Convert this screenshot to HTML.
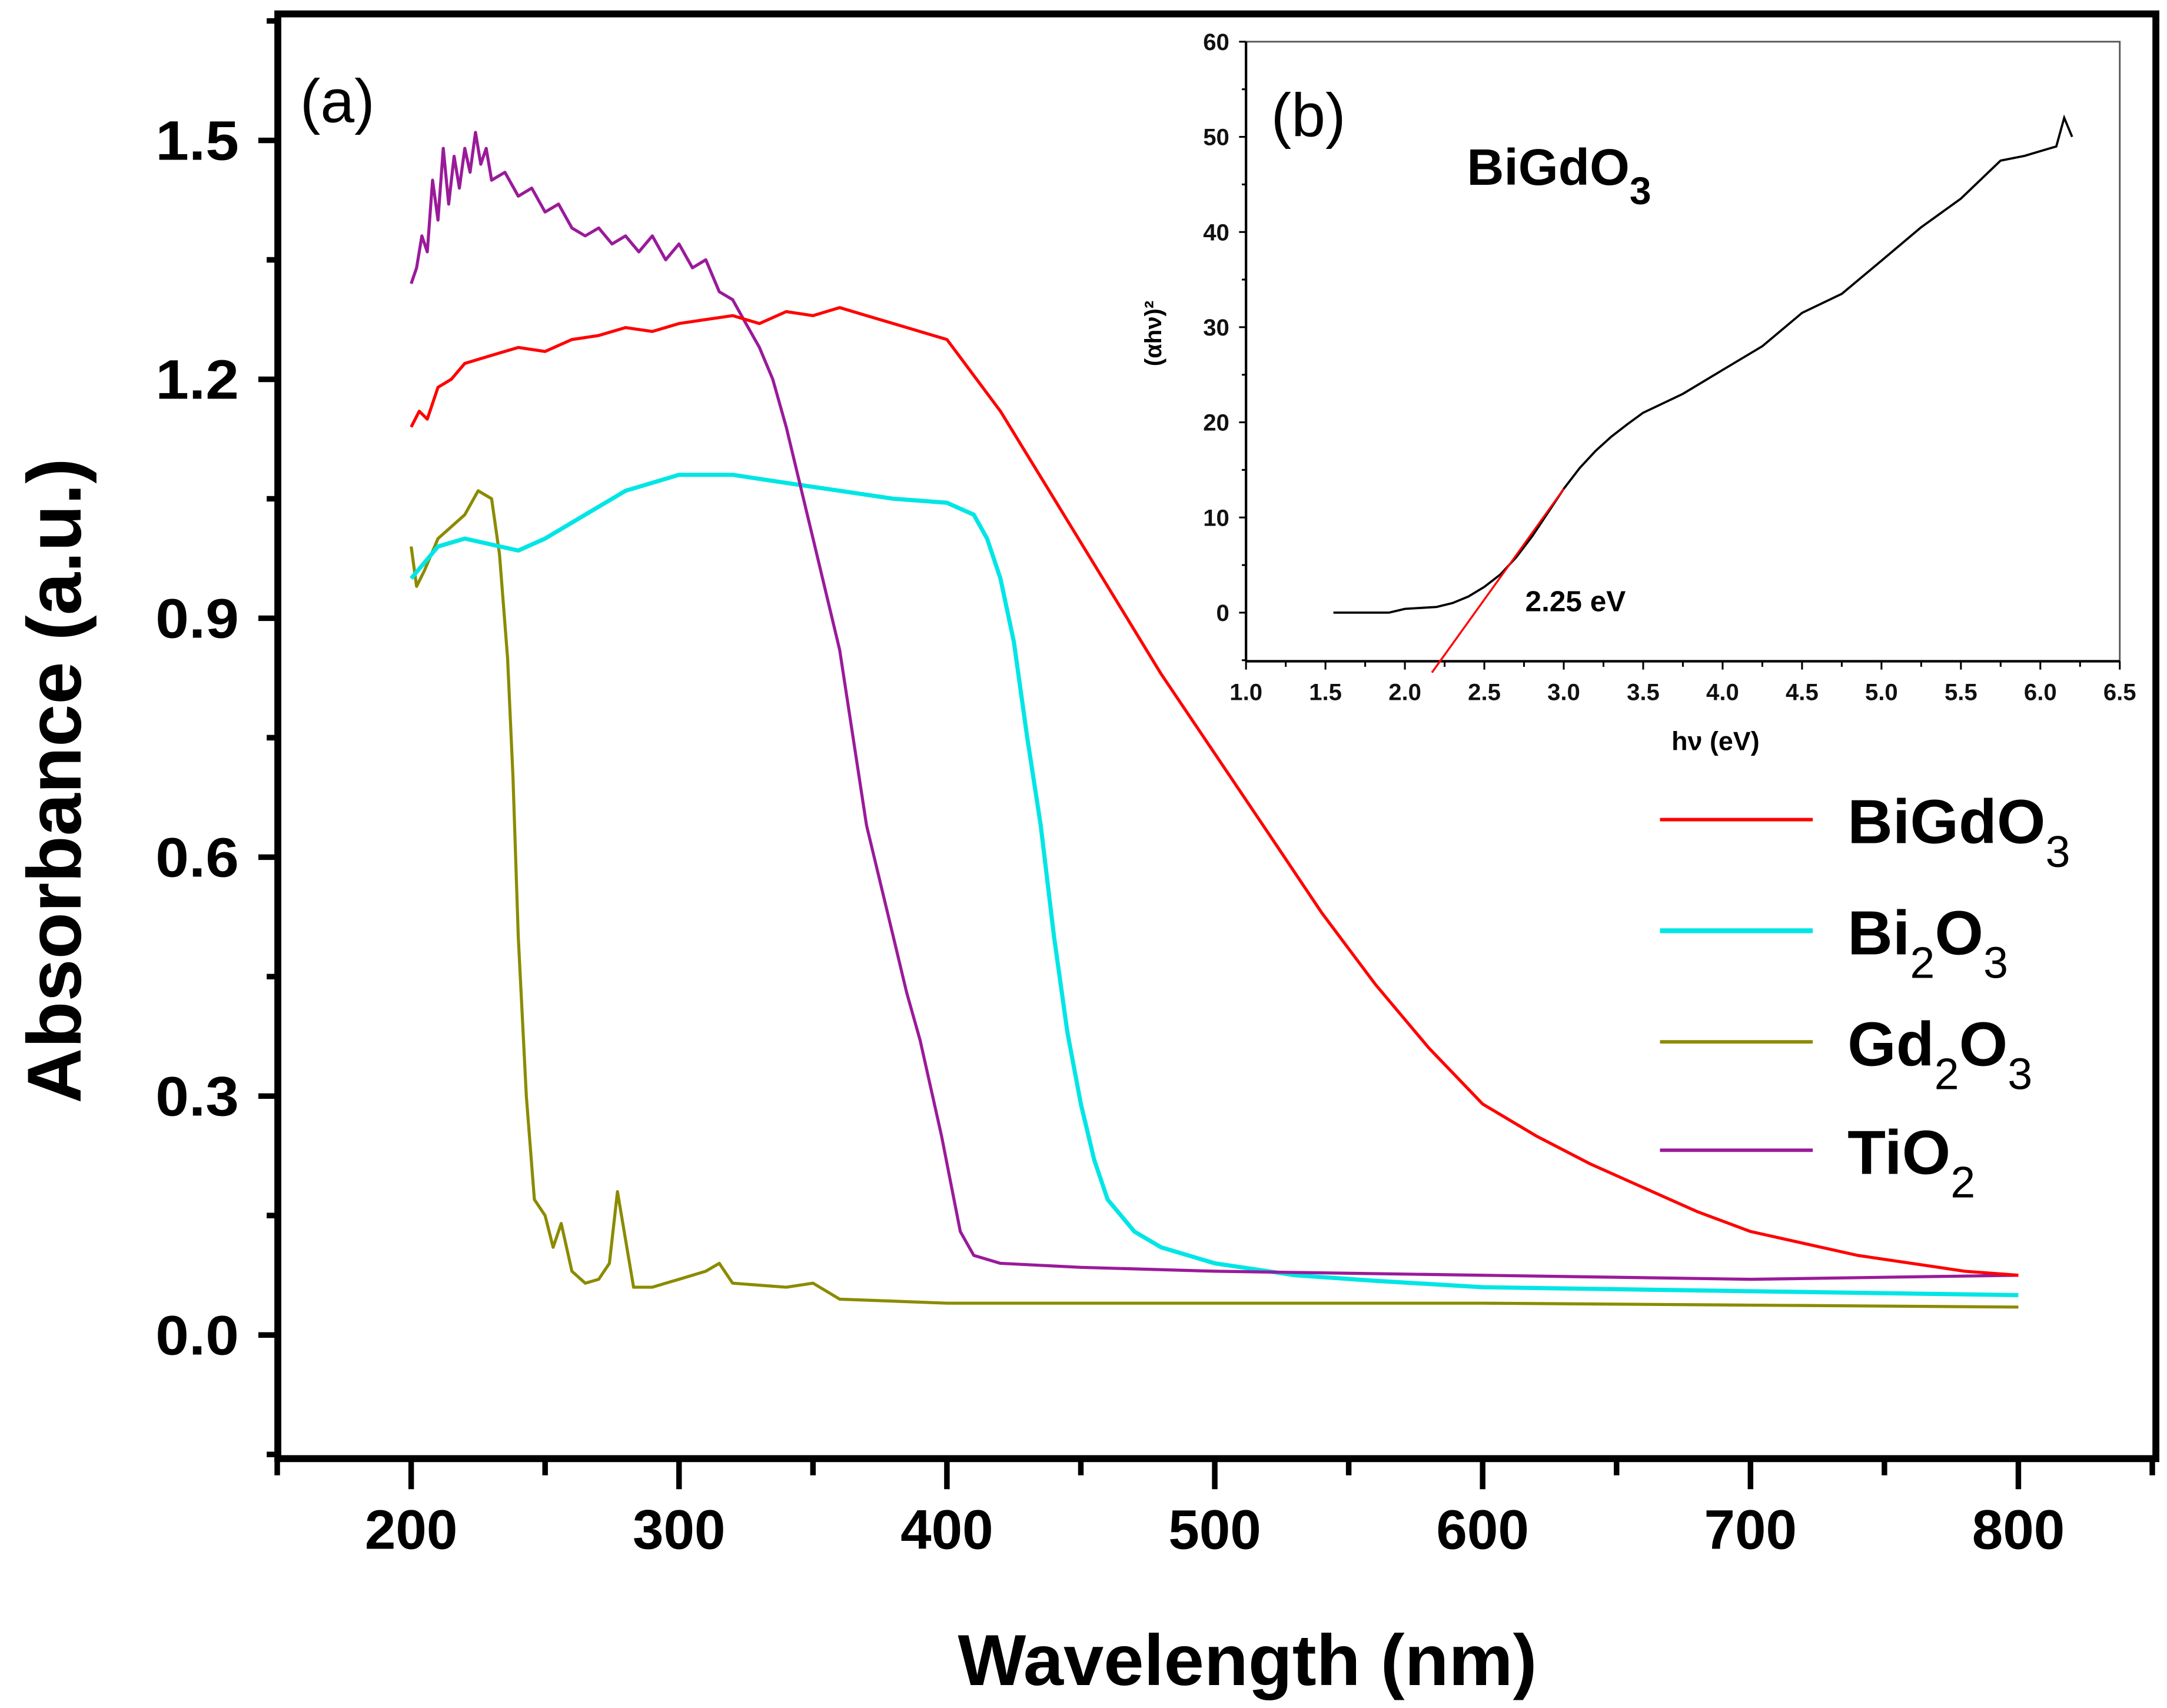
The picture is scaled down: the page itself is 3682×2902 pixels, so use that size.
<!DOCTYPE html>
<html><head><meta charset="utf-8"><style>
html,body{margin:0;padding:0;background:#fff;}
svg{display:block;}
text{font-family:"Liberation Sans",Arial,sans-serif;}
</style></head><body>
<svg id="chart" xmlns="http://www.w3.org/2000/svg" width="3682" height="2902" viewBox="0 0 1560 1229.5">
<rect x="0" y="0" width="1560" height="1229.5" fill="#fff"/>
<g id="main"></g>
<g id="inset"></g>
</svg>
<script>
// ---- main chart data ----
const wlBiGdO3 = [200,203,206,210,215,220,230,240,250,260,270,280,290,300,310,320,330,340,350,360,370,380,400,420,440,460,480,500,520,540,560,580,600,620,640,660,680,700,720,740,760,780,800];
const absBiGdO3 = [1.14,1.16,1.15,1.19,1.2,1.22,1.23,1.24,1.235,1.25,1.255,1.265,1.26,1.27,1.275,1.28,1.27,1.285,1.28,1.29,1.28,1.27,1.25,1.16,1.05,0.94,0.83,0.73,0.63,0.53,0.44,0.36,0.29,0.25,0.215,0.185,0.155,0.13,0.115,0.1,0.09,0.08,0.075];
const wlBi2O3 = [200,210,220,240,250,260,280,300,320,340,360,380,400,410,415,420,425,430,435,440,445,450,455,460,470,480,500,530,560,600,700,800];
const absBi2O3 = [0.95,0.99,1.0,0.985,1.0,1.02,1.06,1.08,1.08,1.07,1.06,1.05,1.045,1.03,1.0,0.95,0.87,0.75,0.64,0.5,0.38,0.29,0.22,0.17,0.13,0.11,0.09,0.075,0.068,0.06,0.055,0.05];
const wlGd2O3 = [200,202,205,210,220,225,230,233,236,238,240,243,246,250,253,256,260,265,270,274,277,280,283,290,300,310,315,320,340,350,360,400,600,800];
const absGd2O3 = [0.99,0.94,0.96,1.0,1.03,1.06,1.05,0.98,0.85,0.7,0.5,0.3,0.17,0.15,0.11,0.14,0.08,0.065,0.07,0.09,0.18,0.12,0.06,0.06,0.07,0.08,0.09,0.065,0.06,0.065,0.045,0.04,0.04,0.035];
const wlTiO2 = [200,202,204,206,208,210,212,214,216,218,220,222,224,226,228,230,235,240,245,250,255,260,265,270,275,280,285,290,295,300,305,310,315,320,325,330,335,340,350,360,370,380,385,390,398,405,410,420,450,500,600,700,800];
const absTiO2 = [1.32,1.34,1.38,1.36,1.45,1.40,1.49,1.42,1.48,1.44,1.49,1.46,1.51,1.47,1.49,1.45,1.46,1.43,1.44,1.41,1.42,1.39,1.38,1.39,1.37,1.38,1.36,1.38,1.35,1.37,1.34,1.35,1.31,1.30,1.27,1.24,1.20,1.14,1.0,0.86,0.64,0.5,0.43,0.37,0.25,0.13,0.1,0.09,0.085,0.08,0.075,0.07,0.075];
const xTicks = [200,300,400,500,600,700,800];
const yTicks = [0.0,0.3,0.6,0.9,1.2,1.5];
const yTickLabels = ["0.0","0.3","0.6","0.9","1.2","1.5"];
// ---- inset data ----
const hv = [1.55,1.9,2.0,2.2,2.3,2.4,2.5,2.6,2.7,2.8,2.9,3.0,3.1,3.2,3.3,3.4,3.5,3.75,4.0,4.25,4.5,4.75,5.0,5.25,5.5,5.75,5.9,6.0,6.1,6.15,6.2];
const ahv2 = [0,0,0.4,0.6,1.0,1.7,2.7,4.0,5.8,8.0,10.5,13.0,15.2,17.0,18.5,19.8,21,23,25.5,28,31.5,33.5,37,40.5,43.5,47.5,48,48.5,49,52,50];
const fitHv = [2.17,3.0];
const fitY = [-6.3,13.0];
const insetXTicks = [1.0,1.5,2.0,2.5,3.0,3.5,4.0,4.5,5.0,5.5,6.0,6.5];
const insetYTicks = [0,10,20,30,40,50,60];

const NS="http://www.w3.org/2000/svg";
function mk(parent,tag,attrs,txt){const e=document.createElementNS(NS,tag);for(const k in attrs)e.setAttribute(k,attrs[k]);if(txt!==undefined)e.textContent=txt;parent.appendChild(e);return e;}

const X0=200,X1=1552,Y0=10,Y1=1050;
const xs=v=>296+(v-200)*(1453-296)/600;
const ys=v=>961-v*573.3;
const main=document.getElementById('main');
let fr=mk(main,'rect',{x:X0,y:Y0,width:X1-X0,height:Y1-Y0,fill:'none',stroke:'#000','stroke-width':5});


for(let v=-0.15;v<=1.66;v+=0.15){
  const major=Math.abs(Math.round(v/0.3)*0.3-v)<1e-6;
  const t=mk(main,'line',{x1:X0-(major?14:8),x2:X0,y1:ys(v),y2:ys(v),stroke:'#000','stroke-width':4});
  
  
}
yTicks.forEach((v,i)=>{
  const t=mk(main,'text',{x:172,y:ys(v)+14,'text-anchor':'end','font-size':40,'font-weight':'bold',transform:`translate(172 0) scale(1.08 1) translate(-172 0)`},yTickLabels[i]);
  
  
});
for(let v=150;v<=850;v+=50){
  const major=v%100===0;
  const t=mk(main,'line',{x1:xs(v),x2:xs(v),y1:Y1,y2:Y1+(major?22:12),stroke:'#000','stroke-width':4});
  
  
}
xTicks.forEach(v=>{
  const t=mk(main,'text',{x:xs(v),y:1115,'text-anchor':'middle','font-size':40,'font-weight':'bold'},String(v));
  
  
});
let t=mk(main,'text',{x:0,y:0,'text-anchor':'middle','font-size':55,'font-weight':'bold',transform:'translate(58 562) rotate(-90)'},'Absorbance (a.u.)');


t=mk(main,'text',{x:898,y:1213,'text-anchor':'middle','font-size':52,'font-weight':'bold'},'Wavelength (nm)');


t=mk(main,'text',{x:216,y:88,'font-size':44},'(a)');



function series(xArr,yArr,color,name,w){
  const d=xArr.map((x,i)=>(i?'L':'M')+xs(x).toFixed(1)+' '+ys(yArr[i]).toFixed(1)).join(' ');
  const p=mk(main,'path',{d:d,fill:'none',stroke:color,'stroke-width':w,'stroke-linejoin':'round'});
  
  
}
series(wlGd2O3,absGd2O3,'#8b8b00','series-gd2o3',2.2);
series(wlBi2O3,absBi2O3,'#00e5e5','series-bi2o3',3);
series(wlTiO2,absTiO2,'#9a1a9a','series-tio2',2.2);
series(wlBiGdO3,absBiGdO3,'#ff0000','series-bigdo3',2.2);

const legend=[['#ff0000','BiGdO',[['3',false]],'legend-bigdo3'],['#00e5e5','Bi',[['2',true],['O',false],['3',true]],'legend-bi2o3'],['#8b8b00','Gd',[['2',true],['O',false],['3',true]],'legend-gd2o3'],['#9a1a9a','TiO',[['2',true]],'legend-tio2']];
const ly=[590,670,750,828];
legend.forEach((L,i)=>{
  const g=mk(main,'g',{});
  
  
  mk(g,'line',{x1:1195,x2:1305,y1:ly[i],y2:ly[i],stroke:L[0],'stroke-width':L[0]==='#00e5e5'?3.5:2.5});
  const tx=mk(g,'text',{x:1330,y:ly[i]+17,'font-size':45,'font-weight':'bold'});
  mk(tx,'tspan',{},L[1]);
  L[2].forEach(([s,sub])=>{
    if(s==='O'){mk(tx,'tspan',{dy:-17,'font-size':45},'O');}
    else mk(tx,'tspan',{dy:17,'font-size':32,'font-weight':'normal'},s);
  });
});

const IX0=897,IX1=1526,IY0=30,IY1=476;
const ix=v=>IX0+(v-1.0)*(IX1-IX0)/5.5;
const iy=v=>441-v*6.85;
const ins=document.getElementById('inset');
let ifr=mk(ins,'rect',{x:IX0,y:IY0,width:IX1-IX0,height:IY1-IY0,fill:'#fff',stroke:'#555','stroke-width':1.2});


mk(ins,'line',{x1:IX0,x2:IX0,y1:IY0,y2:IY1,stroke:'#000','stroke-width':1.8});
mk(ins,'line',{x1:IX0,x2:IX1,y1:IY1,y2:IY1,stroke:'#000','stroke-width':1.8});
for(let v=-5;v<=60;v+=5){
  const major=v%10===0;
  const l=mk(ins,'line',{x1:IX0-(major?5:3),x2:IX0,y1:iy(v),y2:iy(v),stroke:'#000','stroke-width':1.3});
  
  
}
insetYTicks.forEach(v=>{
  const l=mk(ins,'text',{x:IX0-12,y:iy(v)+6,'text-anchor':'end','font-size':17,'font-weight':'bold',fill:'#111'},String(v));
  
  
});
for(let v=1.0;v<=6.51;v+=0.25){
  const major=Math.abs(v*2-Math.round(v*2))<1e-6;
  const l=mk(ins,'line',{x1:ix(v),x2:ix(v),y1:IY1,y2:IY1+(major?6:4),stroke:'#000','stroke-width':1.3});
  
  
}
insetXTicks.forEach(v=>{
  const l=mk(ins,'text',{x:ix(v),y:504,'text-anchor':'middle','font-size':17,'font-weight':'bold',fill:'#111'},v.toFixed(1));
  
  
});
t=mk(ins,'text',{x:1235,y:540,'text-anchor':'middle','font-size':19,'font-weight':'bold'},'hν (eV)');


t=mk(ins,'text',{x:0,y:0,'text-anchor':'middle','font-size':17,'font-weight':'bold',transform:'translate(836 240) rotate(-90)'},'(αhν)²');


t=mk(ins,'text',{x:915,y:98,'font-size':44},'(b)');


t=mk(ins,'text',{x:1056,y:133,'font-size':37,'font-weight':'bold'});
mk(t,'tspan',{},'BiGdO');
mk(t,'tspan',{dy:14,'font-size':28},'3');


t=mk(ins,'text',{x:1098,y:440,'font-size':21,'font-weight':'bold'},'2.25 eV');


let ip=mk(ins,'path',{d:hv.map((x,i)=>(i?'L':'M')+ix(x).toFixed(1)+' '+iy(ahv2[i]).toFixed(1)).join(' '),fill:'none',stroke:'#000','stroke-width':1.6});


let fl=mk(ins,'line',{x1:ix(fitHv[0]),y1:iy(fitY[0]),x2:ix(fitHv[1]),y2:iy(fitY[1]),stroke:'#ff0000','stroke-width':1.4});


</script>
</body></html>
